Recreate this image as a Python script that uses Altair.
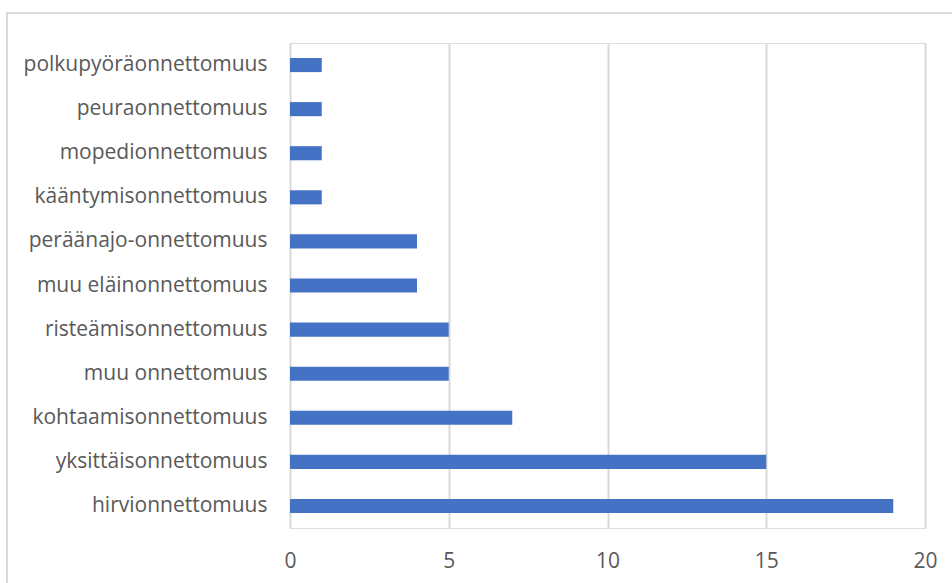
import altair as alt
import pandas as pd

# Accident types and counts
categories = [
    "polkupyöräonnettomuus",
    "peuraonnettomuus",
    "mopedionnettomuus",
    "kääntymisonnettomuus",
    "peräänajo-onnettomuus",
    "muu eläinonnettomuus",
    "risteämisonnettomuus",
    "muu onnettomuus",
    "kohtaamisonnettomuus",
    "yksittäisonnettomuus",
    "hirvionnettomuus",
]
counts = [1, 1, 1, 1, 4, 4, 5, 5, 7, 15, 19]
x_ticks = [0, 5, 10, 15, 20]

df = pd.DataFrame({"tyyppi": categories, "lkm": counts})

FONT = "Open Sans"
TEXT = "#595959"
GRID = "#d9d9d9"

# Outer frame around the whole chart
frame = alt.Chart(pd.DataFrame({"a": [0]})).mark_rect(
    fill=None, stroke="#d9d9d9", strokeWidth=2
).encode(
    x=alt.value(-283), x2=alt.value(700),
    y=alt.value(-30), y2=alt.value(600),
)

bars = alt.Chart(df).mark_bar(color="#4472C4").encode(
    x=alt.X(
        "lkm:Q",
        scale=alt.Scale(domain=[0, 20], nice=False),
        axis=alt.Axis(
            values=x_ticks, title=None, domain=False, ticks=False,
            labelPadding=22, labelFontSize=21, labelColor=TEXT, labelFont=FONT,
            labelFlush=False, gridColor=GRID, gridWidth=2,
        ),
    ),
    y=alt.Y(
        "tyyppi:N",
        sort=categories,
        scale=alt.Scale(paddingInner=0.68, paddingOuter=0.34),
        axis=alt.Axis(
            title=None, domain=False, ticks=False, grid=False,
            labelPadding=23, labelFontSize=21, labelColor=TEXT, labelFont=FONT,
            labelLimit=400,
        ),
    ),
)

chart = alt.layer(frame, bars).properties(
    width=635,
    height=485,
    autosize=alt.AutoSizeParams(type="none"),
    padding={"left": 290, "top": 43, "right": 27, "bottom": 55},
).configure_view(stroke=None).configure(background="white")

chart.save("out.html", embed_options={"renderer": "svg", "actions": False})
